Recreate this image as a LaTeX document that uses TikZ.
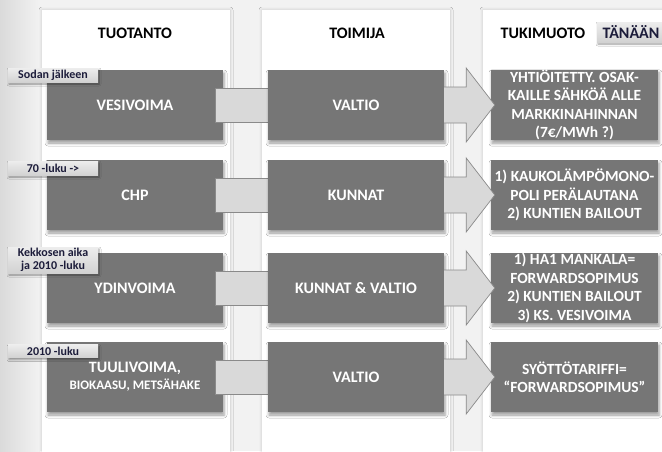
\documentclass[tikz,border=0pt]{standalone}
\usepackage{fontspec}
\setmainfont{Carlito}
\usetikzlibrary{positioning,calc,shadows.blur}

\definecolor{bgdark}{HTML}{DADADA}
\definecolor{bglight}{HTML}{F2F2F2}
\definecolor{boxgray}{HTML}{767676}
\definecolor{linkgray}{HTML}{D9D9D9}
\definecolor{linkedge}{HTML}{8A8A8A}
\definecolor{tagtop}{HTML}{EDEDED}
\definecolor{tagbottom}{HTML}{D2D2D2}
\definecolor{tagtext}{HTML}{1C1C3A}

\begin{document}
\begin{tikzpicture}
  [x=1pt, y=-1pt,
   panel/.style={fill=white, blur shadow={shadow xshift=0pt, shadow yshift=0pt,
       shadow blur radius=3pt, shadow opacity=18}},
   box/.style={fill=boxgray, minimum width=176pt, minimum height=70pt, inner sep=0pt,
       text=white, align=center, font=\bfseries\fontsize{16}{18}\selectfont,
       blur shadow={shadow xshift=1pt, shadow yshift=-3pt, shadow blur radius=3pt}},
   head/.style={font=\bfseries\fontsize{16}{18}\selectfont},
   tag/.style={top color=tagtop, bottom color=tagbottom, minimum width=90pt,
       inner sep=1pt, text=tagtext, align=center,
       font=\bfseries\fontsize{12}{12.5}\selectfont,
       blur shadow={shadow xshift=1pt, shadow yshift=-2pt, shadow blur radius=2pt}},
   link/.style={fill=linkgray, draw=linkedge, line width=0.7pt}]
  \useasboundingbox (0,0) rectangle (662,451);
  \clip (0,0) rectangle (662,451);
  % background and the three white columns
  \fill[bglight] (0,0) rectangle (662,451);
  \shade[left color=bgdark, right color=bglight] (0,0) rectangle (40,451);
  \fill[panel] (42,10) rectangle (230,460);
  \fill[panel] (262,10) rectangle (450,460);
  \fill[panel] (483,10) rectangle (680,460);
  % column headings
  \node[head] (hp) at (135,33) {TUOTANTO};
  \node[head] (ht) at (357,33) {TOIMIJA};
  \node[head] (hk) at (543,33) {TUKIMUOTO};
  \node[tag, font=\bfseries\fontsize{16}{18}\selectfont, minimum width=68pt,
    minimum height=20pt] (now) at (631,32) {TÄNÄÄN};
  % production
  \node[box] (p1) at (135,105) {VESIVOIMA};
  \node[box] (p2) at (135,195) {CHP};
  \node[box] (p3) at (135,288) {YDINVOIMA};
  \node[box] (p4) at (135,377) {TUULIVOIMA,\\[-1pt]
    {\fontsize{13}{15}\selectfont BIOKAASU, METSÄHAKE}};
  % periods
  \node[tag, minimum height=14pt] (d1) at (53,75) {Sodan jälkeen};
  \node[tag, minimum height=14pt] (d2) at (53,168) {70 -luku ->};
  \node[tag, minimum height=26pt] (d3) at (53,260) {Kekkosen aika\\ja 2010 -luku};
  \node[tag, minimum height=13pt] (d4) at (53,351) {2010 -luku};
  % links to the actors
  \foreach \i in {1,...,4}
    \draw[link] ($(p\i.east)+(-8,-17)$) rectangle ($(p\i.east)+(45,17)$);
  % actors
  \node[box] (t1) at (356,105) {VALTIO};
  \node[box] (t2) at (356,195) {KUNNAT};
  \node[box] (t3) at (356,288) {KUNNAT \& VALTIO};
  \node[box] (t4) at (356,377) {VALTIO};
  % forms of support
  \node[box, minimum width=167pt, font=\bfseries\fontsize{15.5}{18.5}\selectfont]
    (k1) at (574.5,105) {YHTIÖITETTY. OSAK-\\KAILLE SÄHKÖÄ ALLE\\MARKKINAHINNAN\\(7€/MWh ?)};
  \node[box, minimum width=167pt, font=\bfseries\fontsize{15.5}{18.5}\selectfont]
    (k2) at (574.5,195) {1) KAUKOLÄMPÖMONO-\\POLI PERÄLAUTANA\\2) KUNTIEN BAILOUT};
  \node[box, minimum width=167pt, font=\bfseries\fontsize{15.5}{18.5}\selectfont]
    (k3) at (574.5,288) {1) HA1 MANKALA=\\FORWARDSOPIMUS\\2) KUNTIEN BAILOUT\\3) KS. VESIVOIMA};
  \node[box, minimum width=167pt, font=\bfseries\fontsize{15.5}{18.5}\selectfont]
    (k4) at (574.5,377) {SYÖTTÖTARIFFI=\\“FORWARDSOPIMUS”};
  % block arrows from actor to support
  \foreach \i in {1,...,4}
    \draw[link, line join=miter] ($(t\i.east)+(0,-18)$) -- ++(22,0) -- ++(0,-19)
      -- ($(k\i.west)+(4,0)$) -- ($(t\i.east)+(22,37)$) -- ++(0,-19)
      -- ($(t\i.east)+(0,18)$);
\end{tikzpicture}
\end{document}
